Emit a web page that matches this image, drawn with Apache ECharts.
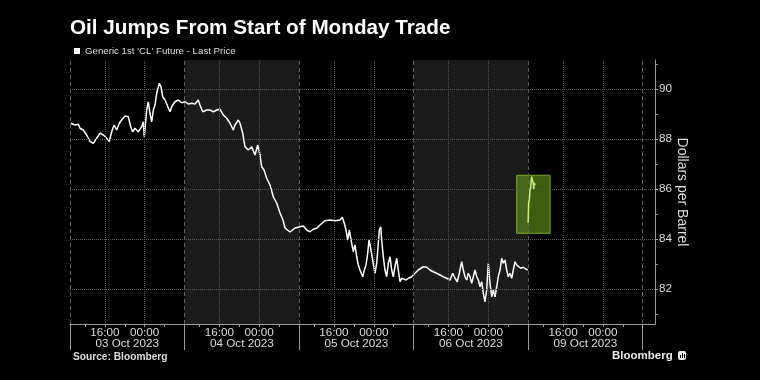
<!DOCTYPE html>
<html><head><meta charset="utf-8">
<script src="https://cdn.jsdelivr.net/npm/echarts@6/dist/echarts.min.js"></script>
<style>html,body{margin:0;padding:0;background:#000}#c{width:760px;height:380px}</style>
</head><body><div id="c"></div>
<script>
const chartTitle = 'Oil Jumps From Start of Monday Trade';
const seriesName = "Generic 1st 'CL' Future - Last Price";
const mondayName = 'Monday open';
const dayLabels = ['03 Oct 2023','04 Oct 2023','05 Oct 2023','06 Oct 2023','09 Oct 2023'];
const sessionHours = 23;               // hours per trading session on the axis
const timeTickHours = [3, 7, 11, 15, 19]; // 12:00,16:00,20:00,00:00,04:00 into each session
const timeLabelHours = [7, 15];
const timeLabelText = {7: '16:00', 15: '00:00'};
const yLabelValues = [82, 84, 86, 88, 90];
const yMinorValues = [81, 82, 83, 84, 85, 86, 87, 88, 89, 90, 91];
const shadedDays = [1, 3];
const highlightBox = {fromHour: 89.7, toHour: 96.4, low: 84.23, high: 86.55};

// hours since start of 03 Oct session
const hours = [
0.14,1.00,1.67,2.01,2.67,3.35,4.02,4.68,5.36,6.02,
6.69,7.37,7.89,8.37,8.84,9.38,9.90,10.38,11.04,11.71,
12.19,12.59,13.05,13.71,14.40,14.72,14.92,15.40,15.72,16.06,
16.41,16.73,17.07,17.41,17.93,18.27,18.61,19.08,19.42,20.08,
20.42,21.08,21.75,22.43,23.09,23.76,24.44,25.10,25.76,26.10,
26.65,27.45,28.11,28.78,29.46,30.12,30.78,31.47,32.13,32.79,
33.13,33.80,34.14,34.68,35.14,35.80,36.49,37.15,37.69,38.15,
38.49,38.96,39.50,40.16,40.82,41.51,42.17,42.77,43.17,44.18,
45.18,46.18,46.85,47.53,48.19,48.86,49.54,50.20,51.20,52.21,
53.21,54.22,54.68,55.08,55.42,55.76,56.08,56.37,56.63,56.89,
57.23,57.57,57.89,58.23,58.78,59.10,59.44,59.78,60.04,60.38,
60.78,61.24,61.59,61.91,62.11,62.39,62.59,62.91,63.25,63.59,
63.92,64.26,64.60,64.92,65.26,65.60,65.92,66.27,66.61,66.93,
67.47,67.93,68.61,69.28,69.94,70.94,71.63,72.29,72.95,73.63,
74.30,74.96,75.64,76.31,76.85,77.31,77.77,78.17,78.65,78.98,
79.32,79.66,79.98,80.32,80.66,80.98,81.33,81.67,81.99,82.33,
82.67,82.99,83.33,83.67,84.00,84.34,84.68,85.00,85.34,85.68,
86.00,86.35,86.69,87.01,87.35,87.69,88.01,88.35,88.69,89.02,
89.36,89.70,90.02,90.50,91.03,91.57,91.91];
const price = [
88.63,88.56,88.59,88.43,88.36,88.16,87.90,87.83,88.03,88.23,
88.16,88.03,87.90,88.29,88.56,88.36,88.63,88.76,88.92,88.89,
88.49,88.29,88.43,88.29,88.49,88.69,88.09,89.16,89.49,89.03,
88.69,89.16,89.36,89.83,90.23,90.09,89.69,89.56,89.49,89.09,
89.29,89.49,89.56,89.45,89.49,89.40,89.43,89.40,89.56,89.36,
89.09,89.16,89.16,89.09,89.16,89.19,88.96,88.83,88.63,88.36,
88.56,88.76,88.63,88.23,87.69,87.56,87.69,87.36,87.76,87.36,
86.89,86.76,86.43,86.16,85.69,85.43,85.04,84.76,84.44,84.28,
84.44,84.49,84.52,84.36,84.29,84.39,84.43,84.56,84.73,84.76,
84.73,84.76,84.87,84.63,84.36,83.96,84.36,84.43,83.76,83.49,
83.76,83.29,82.96,82.76,82.49,82.76,82.96,83.43,83.96,83.63,
83.16,82.63,83.03,83.83,84.36,84.49,83.96,83.29,82.76,82.49,
83.03,83.29,82.76,82.49,82.89,83.23,82.76,82.29,82.43,82.49,
82.36,82.43,82.49,82.63,82.76,82.89,82.87,82.76,82.69,82.63,
82.56,82.49,82.43,82.36,82.63,82.43,82.29,82.63,83.09,82.76,
82.49,82.36,82.63,82.49,82.23,82.49,82.76,82.49,82.36,82.09,
82.29,81.83,81.49,81.96,83.03,82.23,81.69,81.96,81.69,82.09,
82.49,82.76,83.23,83.03,83.16,82.76,82.49,82.63,82.43,82.76,
83.09,82.96,82.89,82.83,82.87,82.79,82.76];
const hours09 = [92.00,92.05,92.10,92.23,92.37,92.50,92.60,92.71,92.80,92.90,93.03,93.11,93.23,93.37];
const price09 = [84.65,85.10,85.45,85.56,85.96,86.05,86.30,86.50,86.38,86.45,86.23,85.99,86.25,86.15];

const nDays = dayLabels.length;
const xMax = 117.47;
const tickVals = [], labelVals = [], dayBounds = [], dayCenters = [];
for (let d = 0; d < nDays; d++) {
  timeTickHours.forEach(h => tickVals.push(d * sessionHours + h));
  timeLabelHours.forEach(h => labelVals.push(d * sessionHours + h));
  dayCenters.push(d * sessionHours + sessionHours / 2);
}
for (let d = 0; d <= nDays; d++) dayBounds.push(d * sessionHours);

const FONT = '"Liberation Sans", Arial, sans-serif';
const txt = '#dcdcdc';
const axisCol = '#9a9a9a';
const gridCol = '#555555';

const gridLines = [];
yLabelValues.forEach(v => gridLines.push({yAxis: v}));
labelVals.forEach(v => gridLines.push({xAxis: v}));
dayBounds.forEach(v => gridLines.push({xAxis: v, lineStyle: {type: [4, 3], color: '#5e5e5e'}}));

const chart = echarts.init(document.getElementById('c'), null, {renderer: 'canvas'});
chart.setOption({
  backgroundColor: '#000',
  animation: false,
  textStyle: {fontFamily: FONT},
  title: {
    text: chartTitle, left: 65, top: 13,
    textStyle: {color: '#fff', fontSize: 20.7, fontWeight: 'bold', fontFamily: FONT}
  },
  legend: {
    data: [seriesName], left: 69, top: 41, icon: 'rect', itemWidth: 6, itemHeight: 6,
    selectedMode: false,
    textStyle: {color: txt, fontSize: 9.7, fontFamily: FONT}
  },
  grid: {left: 70, right: 105, top: 60, bottom: 56, containLabel: false},
  xAxis: [{
    type: 'value', min: 0, max: xMax, position: 'bottom',
    axisLine: {onZero: false, lineStyle: {color: axisCol}},
    axisTick: {show: true, customValues: tickVals, length: 3, lineStyle: {color: axisCol}},
    axisLabel: {customValues: labelVals, color: txt, fontSize: 11.7, margin: 3, fontFamily: FONT,
      formatter: v => timeLabelText[Math.round(v) % sessionHours]},
    splitLine: {show: false}
  }, {
    type: 'value', min: 0, max: xMax, position: 'bottom', gridIndex: 0,
    axisLine: {show: false, onZero: false},
    axisTick: {show: true, customValues: dayBounds, length: 26, lineStyle: {color: axisCol}},
    axisLabel: {customValues: dayCenters, color: txt, fontSize: 11.7, margin: 14, fontFamily: FONT,
      formatter: v => dayLabels[Math.round((v - sessionHours / 2) / sessionHours)]},
    splitLine: {show: false}
  }],
  yAxis: {
    type: 'value', position: 'right', min: 80.6, max: 91.16,
    axisLine: {show: true, onZero: false, lineStyle: {color: axisCol}},
    axisTick: {show: true, customValues: yMinorValues, length: 3, lineStyle: {color: axisCol}},
    axisLabel: {customValues: yLabelValues, color: txt, fontSize: 11.7, margin: 4, fontFamily: FONT},
    splitLine: {show: false},
    name: 'Dollars per Barrel', nameLocation: 'middle', nameRotate: -90, nameGap: 20,
    nameMoveOverlap: false,
    nameTextStyle: {color: txt, fontSize: 14, fontFamily: FONT}
  },
  series: [{
    type: 'line', data: [], z: 1, silent: true,
    markArea: {silent: true, itemStyle: {color: '#1b1b1b'},
      data: shadedDays.map(d => [{xAxis: d * sessionHours}, {xAxis: (d + 1) * sessionHours}])}
  }, {
    type: 'line', data: [], z: 2, silent: true,
    markLine: {silent: true, symbol: ['none', 'none'], label: {show: false},
      lineStyle: {color: gridCol, type: 'dotted', width: 1}, data: gridLines}
  }, {
    type: 'line', data: [], z: 3, silent: true,
    markArea: {silent: true,
      itemStyle: {color: 'rgba(105,155,25,0.6)', borderColor: '#7aa832', borderWidth: 1},
      data: [[{coord: [highlightBox.fromHour, highlightBox.high]}, {coord: [highlightBox.toHour, highlightBox.low]}]]}
  }, {
    name: seriesName, type: 'line', z: 4, showSymbol: false, silent: true,
    data: hours.map((h, i) => [h, price[i]]),
    lineStyle: {color: '#ffffff', width: 1.5}, itemStyle: {color: '#ffffff'}
  }, {
    name: mondayName, type: 'line', z: 5, showSymbol: false, silent: true,
    data: hours09.map((h, i) => [h, price09[i]]),
    lineStyle: {color: '#c8f07c', width: 1.5}, itemStyle: {color: '#c8f07c'}
  }],
  graphic: [
    {type: 'text', left: 73, top: 352, style: {text: 'Source: Bloomberg', fill: txt, font: 'bold 10.2px ' + FONT}},
    {type: 'text', left: 612, top: 350, style: {text: 'Bloomberg', fill: '#e8e8e8', font: 'bold 11.5px ' + FONT}},
    {type: 'group', left: 678, top: 351, children: [
      {type: 'rect', shape: {x: 0, y: 0, width: 8, height: 9, r: 2}, style: {fill: '#e8e8e8'}},
      {type: 'rect', shape: {x: 2, y: 4, width: 1, height: 3}, style: {fill: '#000'}},
      {type: 'rect', shape: {x: 4, y: 2, width: 1, height: 5}, style: {fill: '#000'}},
      {type: 'rect', shape: {x: 6, y: 3, width: 1, height: 4}, style: {fill: '#000'}}
    ]}
  ]
});
</script></body></html>
